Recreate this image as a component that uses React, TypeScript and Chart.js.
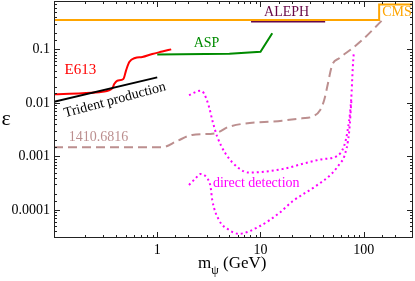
import React, { useEffect, useRef } from 'react';
import { Chart, registerables } from 'chart.js';
Chart.register(...registerables);

// ---- data ----
const cmsX = [0.1, 141, 141, 300];
const cmsY = [0.352, 0.352, 0.685, 0.685];

const alephX = [8.1, 42.3];
const alephY = [0.33, 0.33];

const aspX = [1.0, 5, 10, 13];
const aspY = [0.08, 0.083, 0.09, 0.2];

const e613X = [0.1, 0.188, 0.294, 0.367, 0.383, 0.41, 0.47, 0.5, 0.536, 0.61, 0.716, 0.895, 1.118, 1.366];
const e613Y = [0.0145, 0.0151, 0.0162, 0.0187, 0.0225, 0.026, 0.028, 0.041, 0.058, 0.069, 0.072, 0.082, 0.091, 0.1];

const tridentX = [0.1, 1.0];
const tridentY = [0.0105, 0.03];

const arxivX = [0.1, 1.12, 1.56, 2.18, 3.64, 4.98, 16.2, 25.3, 31.7, 37.9, 41.4, 44.3, 49.5, 57.8, 77.2, 96.6, 151];
const arxivY = [0.00149, 0.00149, 0.00195, 0.00252, 0.00271, 0.0036, 0.00466, 0.00516, 0.00553, 0.0074, 0.0113, 0.02, 0.051, 0.068, 0.104, 0.149, 0.35];

const ddUpperX = [2.03, 2.62, 2.83, 3.17, 3.41, 3.81, 4.55, 6.18, 7.72, 16.2, 27.1, 39.6, 55.2, 64.1, 69, 75.5, 78.4, 80.2];
const ddUpperY = [0.014, 0.0169, 0.0151, 0.0085, 0.0048, 0.00234, 0.00116, 0.0006, 0.0005, 0.00058, 0.00075, 0.00089, 0.00102, 0.00152, 0.0027, 0.0113, 0.047, 0.09];

const ddLowerX = [2.03, 2.35, 2.62, 3.05, 3.28, 3.41, 3.96, 4.94, 6.18, 9.66, 15.1, 20.3, 33.8, 49.5, 59.1, 64.6, 72.2, 76];
const ddLowerY = [0.000294, 0.00039, 0.00047, 0.00039, 0.000274, 0.000154, 6.5e-5, 4.25e-5, 3.6e-5, 4.9e-5, 8.7e-5, 0.000144, 0.000274, 0.000486, 0.00075, 0.00099, 0.00286, 0.0113];

const xMin = 0.1, xMax = 300;
const yMin = 3e-5, yMax = 0.8;

const FONT = "'Liberation Serif', 'Times New Roman', serif";

const pts = (xs: number[], ys: number[]) => xs.map((x, i) => ({ x, y: ys[i] }));

const isMajor = (v: number) => {
  const l = Math.log10(v);
  return Math.abs(l - Math.round(l)) < 1e-6;
};

const framePlugin = {
  id: 'frame',
  afterDraw(chart: any) {
    const { ctx, chartArea: a, scales } = chart;
    const xs = scales.x, ys = scales.y;
    ctx.save();
    ctx.strokeStyle = '#222';
    ctx.lineWidth = 1;
    ctx.strokeRect(a.left + 0.5, a.top + 0.5, a.right - a.left - 1, a.bottom - a.top - 1);
    ctx.beginPath();
    for (const t of xs.ticks) {
      const px = Math.round(xs.getPixelForValue(t.value)) + 0.5;
      if (px < a.left || px > a.right) continue;
      const len = isMajor(t.value) ? 6 : 3;
      ctx.moveTo(px, a.bottom); ctx.lineTo(px, a.bottom - len);
      ctx.moveTo(px, a.top); ctx.lineTo(px, a.top + len);
    }
    for (const t of ys.ticks) {
      const py = Math.round(ys.getPixelForValue(t.value)) + 0.5;
      if (py < a.top || py > a.bottom) continue;
      const len = isMajor(t.value) ? 6 : 3;
      ctx.moveTo(a.left, py); ctx.lineTo(a.left + len, py);
      ctx.moveTo(a.right, py); ctx.lineTo(a.right - len, py);
    }
    ctx.stroke();

    const label = (txt: string, x: number, y: number, color: string, size: number, rot = 0) => {
      ctx.save();
      ctx.translate(xs.getPixelForValue(x), ys.getPixelForValue(y));
      ctx.rotate((rot * Math.PI) / 180);
      ctx.fillStyle = color;
      ctx.font = `${size}px ${FONT}`;
      ctx.textAlign = 'center';
      ctx.textBaseline = 'middle';
      ctx.fillText(txt, 0, 0);
      ctx.restore();
    };
    label('E613', 0.18, 0.041, '#ff0000', 15);
    label('Trident production', 0.39, 0.0113, '#000000', 14, -15);
    label('ASP', 3.0, 0.131, '#008b00', 14);
    label('ALEPH', 17.9, 0.497, '#670748', 14);
    label('CMS', 210, 0.497, '#ffa500', 14);
    label('1410.6816', 0.27, 0.00231, '#bc8f8f', 14);
    label('direct detection', 9.1, 0.00032, '#ff00ff', 14);

    // axis titles
    ctx.fillStyle = '#000';
    ctx.textBaseline = 'alphabetic';
    ctx.textAlign = 'center';
    ctx.font = `22px ${FONT}`;
    ctx.fillText('ε', 6, 125);
    ctx.textAlign = 'left';
    let x0 = 198;
    ctx.font = `17px ${FONT}`;
    ctx.fillText('m', x0, 268);
    x0 += ctx.measureText('m').width;
    ctx.font = `12px ${FONT}`;
    ctx.fillText('ψ', x0, 274);
    x0 += ctx.measureText('ψ').width;
    ctx.font = `17px ${FONT}`;
    ctx.fillText(' (GeV)', x0, 268);
    ctx.restore();
  },
};

export default function App() {
  const ref = useRef<HTMLCanvasElement | null>(null);
  useEffect(() => {
    if (!ref.current) return;
    const base = { pointRadius: 0, fill: false, cubicInterpolationMode: 'monotone' as const };
    const chart = new Chart(ref.current, {
      type: 'line',
      data: {
        datasets: [
          { ...base, data: pts(arxivX, arxivY), borderColor: '#bc8f8f', borderWidth: 2, borderDash: [9, 5] },
          { ...base, data: pts(ddUpperX, ddUpperY), borderColor: '#ff00ff', borderWidth: 2, borderDash: [2, 3] },
          { ...base, data: pts(ddLowerX, ddLowerY), borderColor: '#ff00ff', borderWidth: 2, borderDash: [2, 3] },
          { ...base, data: pts(tridentX, tridentY), borderColor: '#000000', borderWidth: 2, tension: 0 },
          { ...base, data: pts(aspX, aspY), borderColor: '#008b00', borderWidth: 2, cubicInterpolationMode: 'default', tension: 0 },
          { ...base, data: pts(e613X, e613Y), borderColor: '#ff0000', borderWidth: 2 },
          { ...base, data: pts(cmsX, cmsY), borderColor: '#ffa500', borderWidth: 2, cubicInterpolationMode: 'default', tension: 0 },
          { ...base, data: pts(alephX, alephY), borderColor: '#670748', borderWidth: 2, tension: 0 },
        ],
      },
      options: {
        animation: false,
        responsive: false,
        devicePixelRatio: 1,
        layout: { padding: { left: 0, top: 1, right: 2, bottom: 0 } },
        plugins: { legend: { display: false }, tooltip: { enabled: false } },
        scales: {
          x: {
            type: 'logarithmic',
            min: xMin,
            max: xMax,
            grid: { display: false, drawTicks: false },
            border: { display: false },
            afterFit: (s: any) => { s.height = 43; s.paddingLeft = 0; s.paddingRight = 0; },
            ticks: {
              autoSkip: false,
              maxRotation: 0,
              padding: 4,
              color: '#000',
              font: { family: FONT, size: 14 },
              callback: (v: any) => {
                const n = Number(v);
                return isMajor(n) && n >= 1 ? String(Number(n.toPrecision(6))) : '';
              },
            },
          },
          y: {
            type: 'logarithmic',
            min: yMin,
            max: yMax,
            grid: { display: false, drawTicks: false },
            border: { display: false },
            afterFit: (s: any) => { s.width = 54; s.paddingTop = 0; s.paddingBottom = 0; },
            ticks: {
              autoSkip: false,
              padding: 4,
              color: '#000',
              font: { family: FONT, size: 14 },
              callback: (v: any) => {
                const n = Number(v);
                return isMajor(n) ? String(Number(n.toPrecision(6))) : '';
              },
            },
          },
        },
      },
      plugins: [framePlugin],
    });
    return () => chart.destroy();
  }, []);
  return (
    <div style={{ position: 'absolute', left: 0, top: 0, width: 415, height: 281, background: '#fff' }}>
      <canvas ref={ref} width={415} height={281} />
    </div>
  );
}
